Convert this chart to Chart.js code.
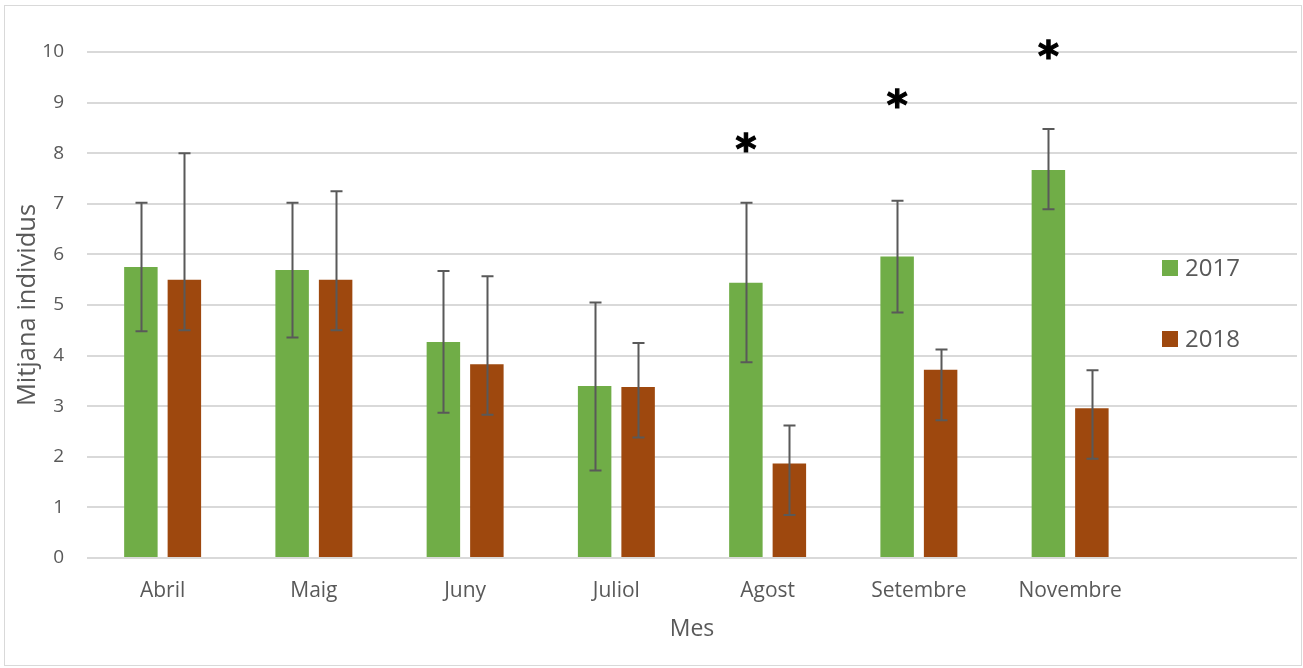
<!DOCTYPE html>
<html>
<head>
<meta charset="utf-8">
<script src="https://cdn.jsdelivr.net/npm/chart.js@4"></script>
<style>
  body { margin: 0; background: #fff; }
  #wrap { position: relative; width: 1303px; height: 668px; }
  #frame { position: absolute; left: 4px; top: 5px; width: 1296px; height: 659px; border: 1px solid #d9d9d9; pointer-events: none; }
</style>
</head>
<body>
<div id="wrap">
  <canvas id="myChart" width="1303" height="668"></canvas>
  <div id="frame"></div>
</div>
<script>
// months (last slot left empty on purpose)
const months = ['Abril', 'Maig', 'Juny', 'Juliol', 'Agost', 'Setembre', 'Novembre', '']
const yearLabels = ['2017', '2018']

const mean2017 = [5.75, 5.69, 4.27, 3.40, 5.44, 5.96, 7.67, null]
const mean2018 = [5.50, 5.50, 3.83, 3.38, 1.87, 3.72, 2.96, null]

// error bar ends
const low2017 = [4.48, 4.36, 2.87, 1.73, 3.87, 4.85, 6.89, null]
const high2017 = [7.02, 7.02, 5.67, 5.05, 7.02, 7.06, 8.48, null]
const low2018 = [4.50, 4.50, 2.83, 2.38, 0.85, 2.72, 1.96, null]
const high2018 = [8.00, 7.25, 5.57, 4.25, 2.62, 4.12, 3.71, null]

// significance marks above the 2017 bars
const starY = [null, null, null, null, 8.22, 9.09, 10.05, null]

const yTicks = [0, 1, 2, 3, 4, 5, 6, 7, 8, 9, 10]

const green = '#70ad47'
const brown = '#9e480e'
const textColor = '#595959'
const fontFamily = "'Open Sans', 'Noto Sans', sans-serif"

const errorBars = {
  id: 'errorBars',
  afterDatasetsDraw(chart) {
    const ctx = chart.ctx
    const y = chart.scales.y
    const ends = [[low2017, high2017], [low2018, high2018]]
    ctx.save()
    ctx.strokeStyle = '#595959'
    ctx.lineWidth = 2
    ends.forEach(([lo, hi], i) => {
      chart.getDatasetMeta(i).data.forEach((bar, j) => {
        if (lo[j] == null) return
        const x = Math.round(bar.x) + 0.5
        const y1 = y.getPixelForValue(lo[j])
        const y2 = y.getPixelForValue(hi[j])
        ctx.beginPath()
        ctx.moveTo(x, y1); ctx.lineTo(x, y2)
        ctx.moveTo(x - 6, y1); ctx.lineTo(x + 6, y1)
        ctx.moveTo(x - 6, y2); ctx.lineTo(x + 6, y2)
        ctx.stroke()
      })
    })
    ctx.restore()
  }
}

const stars = {
  id: 'stars',
  afterDatasetsDraw(chart) {
    const ctx = chart.ctx
    const y = chart.scales.y
    ctx.save()
    ctx.fillStyle = '#000'
    ctx.strokeStyle = '#000'
    ctx.lineWidth = 1.2
    ctx.font = "bold 40px 'DejaVu Sans'"
    ctx.textAlign = 'center'
    ctx.textBaseline = 'alphabetic'
    const m = ctx.measureText('*')
    const shift = (m.actualBoundingBoxAscent - m.actualBoundingBoxDescent) / 2
    chart.getDatasetMeta(0).data.forEach((bar, j) => {
      if (starY[j] == null) return
      const py = y.getPixelForValue(starY[j]) + shift
      ctx.fillText('*', bar.x, py)
      ctx.strokeText('*', bar.x, py)
    })
    ctx.restore()
  }
}

// legend sits inside the plot area, on the right
const sideLegend = {
  id: 'sideLegend',
  afterDraw(chart) {
    const ctx = chart.ctx
    const x = chart.chartArea.right - 135
    const rows = [268, 339]
    ctx.save()
    ctx.font = '24px ' + fontFamily
    ctx.textBaseline = 'middle'
    chart.data.datasets.forEach((ds, i) => {
      ctx.fillStyle = ds.backgroundColor
      ctx.fillRect(x, rows[i] - 8, 16, 16)
      ctx.fillStyle = textColor
      ctx.fillText(ds.label, x + 23, rows[i] + 1)
    })
    ctx.restore()
  }
}

const ctx = document.getElementById('myChart')
const chart = new Chart(ctx, {
  type: 'bar',
  data: {
    labels: months,
    datasets: [
      { label: yearLabels[0], data: mean2017, backgroundColor: green },
      { label: yearLabels[1], data: mean2018, backgroundColor: brown }
    ]
  },
  options: {
    responsive: false,
    animation: false,
    events: [],
    barPercentage: 0.77,
    categoryPercentage: 0.575,
    layout: { padding: { left: 0, right: 6, top: 52, bottom: 0 } },
    plugins: {
      legend: { display: false },
      tooltip: { enabled: false }
    },
    scales: {
      x: {
        grid: { display: false },
        border: { display: false },
        ticks: { color: textColor, font: { family: fontFamily, size: 21 }, padding: 12, maxRotation: 0 },
        title: { display: true, text: 'Mes', color: textColor, font: { family: fontFamily, size: 23 }, padding: { top: 0, bottom: 25 } },
        afterFit: (scale) => { scale.height = 110 }
      },
      y: {
        min: 0,
        max: 10,
        afterBuildTicks: (scale) => { scale.ticks = yTicks.map(v => ({ value: v })) },
        grid: { color: '#d9d9d9', lineWidth: 2, drawTicks: false },
        border: { display: false },
        ticks: { color: textColor, font: { family: fontFamily, size: 19 }, padding: 23 },
        title: { display: true, text: 'Mitjana individus', color: textColor, font: { family: fontFamily, size: 25.5 }, padding: { top: 12, bottom: 0 } },
        afterFit: (scale) => { scale.width = 87 }
      }
    }
  },
  plugins: [errorBars, stars, sideLegend]
})
</script>
</body>
</html>
